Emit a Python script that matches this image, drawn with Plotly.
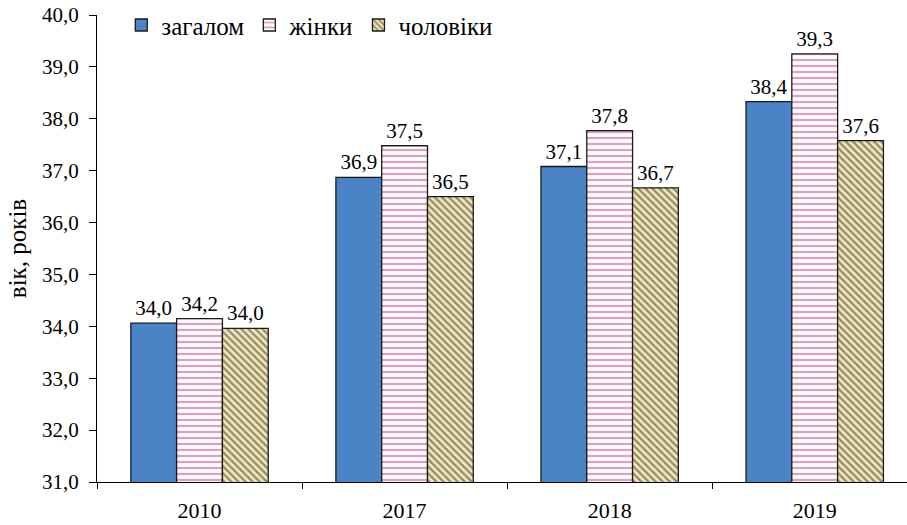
import plotly.graph_objects as go

years = ["2010", "2017", "2018", "2019"]
series_names = ["загалом", "жінки", "чоловіки"]
# bar heights
total = [34.06, 36.87, 37.08, 38.33]
women = [34.15, 37.48, 37.77, 39.25]
men = [33.96, 36.50, 36.67, 37.58]
# printed labels
total_lbl = ["34,0", "36,9", "37,1", "38,4"]
women_lbl = ["34,2", "37,5", "37,8", "39,3"]
men_lbl = ["34,0", "36,5", "36,7", "37,6"]
y_ticks = [31, 32, 33, 34, 35, 36, 37, 38, 39, 40]
y_title = "вік, років"

FONT = "Liberation Serif"
FS = 21

fig = go.Figure()
common = dict(textposition="outside", cliponaxis=False, constraintext="none",
              textfont=dict(family=FONT, size=FS, color="black"))
fig.add_trace(go.Bar(x=years, y=total, name=series_names[0], text=total_lbl,
                     marker=dict(color="#4A84C6", line=dict(color="#1a1a1a", width=1.3)),
                     **common))
fig.add_trace(go.Bar(x=years, y=women, name=series_names[1], text=women_lbl,
                     marker=dict(color="white", line=dict(color="#1a1a1a", width=1.3),
                                 pattern=dict(shape="-", fgcolor="#C4427F", bgcolor="white",
                                              size=6, solidity=0.38)),
                     **common))
fig.add_trace(go.Bar(x=years, y=men, name=series_names[2], text=men_lbl,
                     marker=dict(color="#F3E6B5", line=dict(color="#1a1a1a", width=1.3),
                                 pattern=dict(shape="\\", fgcolor="#2e2e2e", bgcolor="#F3E6B5",
                                              size=5, solidity=0.45)),
                     **common))

fig.update_layout(
    width=907, height=525,
    margin=dict(l=97, r=0, t=15, b=43, autoexpand=False),
    paper_bgcolor="white", plot_bgcolor="white",
    font=dict(family=FONT, size=FS, color="black"),
    separators=", ",
    barmode="group", bargap=0.33, bargroupgap=0,
    showlegend=True,
    legend=dict(orientation="h", x=0.03, y=0.978, xanchor="left", yanchor="middle",
                bgcolor="rgba(0,0,0,0)", font=dict(family=FONT, size=25),
                itemwidth=30, tracegroupgap=0),
    xaxis=dict(type="category", range=[-0.5, 3.45], showline=True, linecolor="black",
               linewidth=1, ticks="outside", ticklen=6, tickcolor="black",
               tickson="boundaries", showgrid=False, ticklabelstandoff=9,
               automargin=False, tickfont=dict(family=FONT, size=22)),
    yaxis=dict(range=[31, 40], tickvals=y_ticks, tickformat=".1f", showline=True,
               linecolor="black", linewidth=1, ticks="outside", ticklen=7,
               tickcolor="black", showgrid=False, zeroline=False, ticklabelstandoff=6,
               automargin=False, tickfont=dict(family=FONT, size=21),
               title=dict(text=y_title, font=dict(family=FONT, size=25), standoff=8)),
)

fig.write_html("out.html", config={"displayModeBar": False},
               post_script="document.body.style.margin='0';document.body.style.overflow='hidden';")
